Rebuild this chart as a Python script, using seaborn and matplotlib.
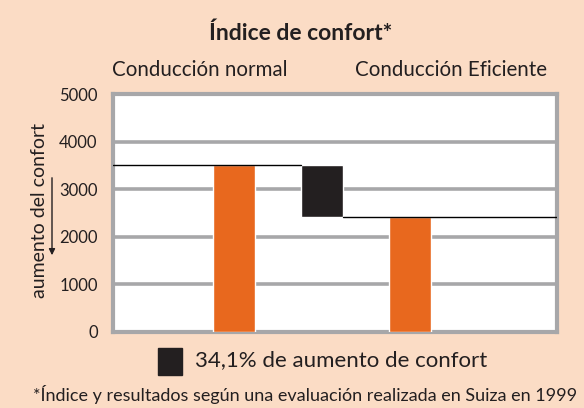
import matplotlib
matplotlib.use("Agg")
import matplotlib.pyplot as plt
import seaborn as sns
import pandas as pd
from matplotlib.patches import Rectangle, FancyArrowPatch

# Comfort index values
categories = ["Conducción normal", "diferencia", "Conducción Eficiente"]
bar_labels = ["Conducción normal", "Conducción Eficiente"]
bar_values = [3510, 2420]
y_ticks = [0, 1000, 2000, 3000, 4000, 5000]
legend_text = "34,1% de aumento de confort"
title = "Índice de confort*"
footnote = "*Índice y resultados según una evaluación realizada en Suiza en 1999"
ylabel = "aumento del confort"

BG = "#FBDCC5"
ORANGE = "#E8681E"
DARK = "#231F20"
GRID = "#A7A7A9"
TEXT = "#231F20"

sns.set_theme(style="white")
plt.rcParams["font.family"] = ["Lato", "DejaVu Sans"]

fig = plt.figure(figsize=(5.84, 4.08), dpi=100, facecolor=BG)
ax = fig.add_axes([0.1935, 0.187, 0.7603, 0.5826])
ax.set_facecolor("white")

df = pd.DataFrame({"modo": bar_labels, "valor": bar_values})
sns.barplot(data=df, x="modo", y="valor", order=categories, color=ORANGE,
            saturation=1, width=0.48, ax=ax, zorder=3)

# floating block showing the difference between the two modes
ax.bar(1, bar_values[0] - bar_values[1], bottom=bar_values[1], width=0.47,
       color=DARK, zorder=3)

# step connector lines
ax.plot([-1.375, 1 - 0.235], [bar_values[0]] * 2, color="black", lw=1, zorder=4)
ax.plot([1 + 0.235, 3.67], [bar_values[1]] * 2, color="black", lw=1, zorder=4)

ax.set_xlim(-1.375, 3.67)
ax.set_ylim(0, 5000)
ax.set_yticks(y_ticks)
ax.set_yticklabels([str(v) for v in y_ticks], fontsize=12, color=TEXT)
ax.tick_params(axis="y", length=0, pad=11)
ax.set_xticks([])
ax.set_xlabel("")
ax.set_ylabel("")
ax.yaxis.grid(True, color=GRID, lw=2.6, zorder=1)
ax.set_axisbelow(True)
for s in ax.spines.values():
    s.set_color(GRID)
    s.set_linewidth(3)

fig.text(40 / 584, 1 - 210 / 408, ylabel, rotation=90, ha="center", va="center",
         fontsize=14, color=TEXT)
fig.patches.append(FancyArrowPatch((52 / 584, 1 - 175 / 408), (52 / 584, 1 - 258 / 408),
                                   transform=fig.transFigure, arrowstyle="-|>",
                                   mutation_scale=9, color=TEXT, lw=1))

fig.text(301 / 584, 1 - 33 / 408, title, ha="center", va="center",
         fontsize=16.5, fontweight="bold", color=TEXT)
fig.text(200 / 584, 1 - 70 / 408, bar_labels[0], ha="center", va="center",
         fontsize=14.8, color=TEXT)
fig.text(451 / 584, 1 - 70 / 408, bar_labels[1], ha="center", va="center",
         fontsize=14.8, color=TEXT)

fig.patches.append(Rectangle((158 / 584, 1 - 375 / 408), 24 / 584, 27 / 408,
                             transform=fig.transFigure, color=DARK))
fig.text(195 / 584, 1 - 360 / 408, legend_text, ha="left", va="center",
         fontsize=16, color=TEXT)
fig.text(305 / 584, 1 - 395 / 408, footnote, ha="center", va="center",
         fontsize=13, color=TEXT)

fig.savefig("out.png", dpi=100, facecolor=BG)
